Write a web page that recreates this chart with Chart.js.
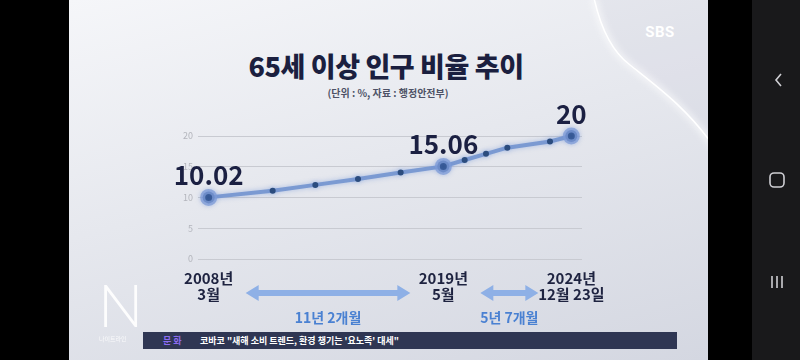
<!DOCTYPE html>
<html>
<head>
<meta charset="utf-8">
<script src="https://cdn.jsdelivr.net/npm/chart.js@4"></script>
<style>
  body { margin: 0; width: 800px; height: 360px; background: #000; overflow: hidden; position: relative; font-family: "Noto Sans CJK KR", "Noto Sans", sans-serif; }
  #video { position: absolute; left: 69px; top: 0; width: 639px; height: 360px; overflow: hidden;
           background: linear-gradient(165deg, #f5f6f9 0%, #e6e8ee 45%, #d4d7e1 100%); }
  #swoosh { position: absolute; left: -69px; top: 0; }
  #nav { position: absolute; left: 752px; top: 0; width: 48px; height: 360px; background: #19191b; }
  .abs { position: absolute; white-space: nowrap; }
  #title { left: 386px; top: 46px; transform: translateX(-50%); font-size: 27px; font-weight: 900; color: #1b1f3f; letter-spacing: -0.4px; }
  #sub { left: 388px; top: 85px; transform: translateX(-50%); font-size: 10px; font-weight: 700; color: #4d5266; }
  #sbs { left: 660px; top: 23px; transform: translateX(-50%); font-family: Roboto, sans-serif; font-size: 15px; font-weight: 700; color: #fff; letter-spacing: 0.5px; }
  #logo { left: 98px; top: 268px; font-family: Lato, sans-serif; font-weight: 300; font-size: 60px; color: #fff; opacity: 0.95; }
  #logo2 { left: 99px; top: 334px; font-size: 6px; color: #fff; opacity: 0.8; }
  #ticker { left: 143px; top: 332px; width: 534px; height: 17px; background: #2f3653; }
  #ticker span { position: absolute; top: 2px; font-size: 9px; font-weight: 700; }
  canvas { position: absolute; left: 0; top: 0; }
</style>
</head>
<body>
<div id="video">
  <svg id="swoosh" width="800" height="360">
    <defs><filter id="blur"><feGaussianBlur stdDeviation="3"/></filter></defs>
    <path d="M594,-2 C600,25 610,50 630,65 C655,85 690,110 716,150 L716,-2 Z" fill="rgba(170,175,195,0.12)"/>
    <path d="M594,-2 C600,25 610,50 630,65 C655,85 690,110 716,150" fill="none" stroke="#fff" stroke-width="6" opacity="0.6" filter="url(#blur)"/>
    <path d="M594,-2 C600,25 610,50 630,65 C655,85 690,110 716,150" fill="none" stroke="#fff" stroke-width="1.5"/>
  </svg>
</div>
<div id="nav">
  <svg width="48" height="360">
    <polyline points="29,74 24,80 29,86" fill="none" stroke="#cfcfd4" stroke-width="1.6"/>
    <rect x="18" y="173" width="14" height="14" rx="4" fill="none" stroke="#cfcfd4" stroke-width="1.6"/>
    <line x1="20" y1="276" x2="20" y2="288" stroke="#cfcfd4" stroke-width="1.6"/>
    <line x1="25" y1="276" x2="25" y2="288" stroke="#cfcfd4" stroke-width="1.6"/>
    <line x1="30" y1="276" x2="30" y2="288" stroke="#cfcfd4" stroke-width="1.6"/>
  </svg>
</div>
<div class="abs" id="title">65세 이상 인구 비율 추이</div>
<div class="abs" id="sub">(단위 : %, 자료 : 행정안전부)</div>
<div class="abs" id="sbs">SBS</div>
<div class="abs" id="logo">N</div>
<div class="abs" id="logo2">나이트라인</div>
<div class="abs" id="ticker">
  <span style="left:20px; color:#8d6cf2;">문 화</span>
  <span style="left:57px; color:#fff;">코바코 "새해 소비 트렌드, 환경 챙기는 '요노족' 대세"</span>
</div>
<canvas id="chart" width="800" height="360"></canvas>
<script>
// x slots: the three dates sit under their points, the rest are blank
var xLabels = [['2008년', '3월'], '', '', '', '', '', '', '', '', '', '',
               ['2019년', '5월'], '', '', '', '', '', ['2024년', '12월 23일']];
// share of population aged 65+ (%)
var rates = [10.02, null, null, 11.1, null, 12.05, null, 13.0, null, 14.05, null,
             15.06, 16.1, 17.1, 18.1, null, 19.1, 20];
// points that get the big marker and the value label
var markIdx = [0, 11, 17];
// arrows between the dates
var periodSpans = [[0, 11], [11, 17]];
var periodText = ['11년 2개월', '5년 7개월'];

var FONT = '"Noto Sans CJK KR", "Noto Sans", sans-serif';
Chart.defaults.font.family = FONT;

var radii = [], fills = [], rims = [], rimWidths = [];
for (let i = 0; i < rates.length; i++) {
    const big = markIdx.indexOf(i) >= 0;
    radii.push(big ? 6 : 3);
    fills.push(big ? '#2d4f8a' : '#2b4c7e');
    rims.push(big ? 'rgba(125,155,215,0.75)' : 'rgba(0,0,0,0)');
    rimWidths.push(big ? 5 : 0);
}

function drawArrow(ctx, x0, x1, y) {
    const h = 8, len = 13, t = 3;
    ctx.beginPath();
    ctx.moveTo(x0, y);
    ctx.lineTo(x0 + len, y - h);
    ctx.lineTo(x0 + len, y - t);
    ctx.lineTo(x1 - len, y - t);
    ctx.lineTo(x1 - len, y - h);
    ctx.lineTo(x1, y);
    ctx.lineTo(x1 - len, y + h);
    ctx.lineTo(x1 - len, y + t);
    ctx.lineTo(x0 + len, y + t);
    ctx.lineTo(x0 + len, y + h);
    ctx.closePath();
    ctx.fill();
}

const annotate = {
    id: 'annotate',
    beforeDatasetDraw(chart) {
        const ctx = chart.ctx;
        ctx.save();
        ctx.shadowColor = 'rgba(110,145,215,0.5)';
        ctx.shadowBlur = 5;
    },
    afterDatasetDraw(chart) {
        chart.ctx.restore();
    },
    afterDatasetsDraw(chart) {
        const ctx = chart.ctx;
        const pts = chart.getDatasetMeta(0).data;
        const xs = chart.scales.x;
        ctx.save();
        // value labels
        ctx.font = 'bold 26px ' + FONT;
        ctx.fillStyle = '#1b2042';
        ctx.textAlign = 'center';
        ctx.textBaseline = 'middle';
        markIdx.forEach(i => {
            ctx.fillText(String(rates[i]), pts[i].x, pts[i].y - 22);
        });
        // period arrows
        const yA = chart.chartArea.bottom + 34;
        ctx.font = 'bold 14px ' + FONT;
        periodSpans.forEach((s, k) => {
            const x0 = xs.getPixelForValue(s[0]) + 37;
            const x1 = xs.getPixelForValue(s[1]) - 33;
            ctx.fillStyle = '#8eb0e6';
            drawArrow(ctx, x0, x1, yA);
            ctx.fillStyle = '#4a81d2';
            ctx.fillText(periodText[k], (x0 + x1) / 2, yA + 25);
        });
        ctx.restore();
    }
};

new Chart(document.getElementById('chart'), {
    type: 'line',
    data: {
        labels: xLabels,
        datasets: [{
            data: rates,
            spanGaps: true,
            clip: false,
            borderColor: '#7b9ad2',
            borderWidth: 4,
            pointRadius: radii,
            pointBackgroundColor: fills,
            pointBorderColor: rims,
            pointBorderWidth: rimWidths
        }]
    },
    options: {
        responsive: false,
        animation: false,
        layout: { padding: { left: 168, right: 218, top: 136, bottom: 41 } },
        plugins: { legend: { display: false }, tooltip: { enabled: false } },
        scales: {
            x: {
                offset: true,
                grid: { display: false, drawTicks: false },
                border: { display: false },
                ticks: {
                    autoSkip: false, maxRotation: 0, padding: 11,
                    color: '#1e2340',
                    font: { size: 15, weight: 'bold', lineHeight: 1.1 }
                },
                afterFit(s) { s.height = 60; }
            },
            y: {
                min: 0, max: 20,
                ticks: { stepSize: 5, padding: 5, color: '#b3b5bc', font: { size: 9 } },
                grid: { color: '#c8cad1', drawTicks: false },
                border: { display: false },
                afterFit(s) { s.width = 30; }
            }
        }
    },
    plugins: [annotate]
});
</script>
</body>
</html>
